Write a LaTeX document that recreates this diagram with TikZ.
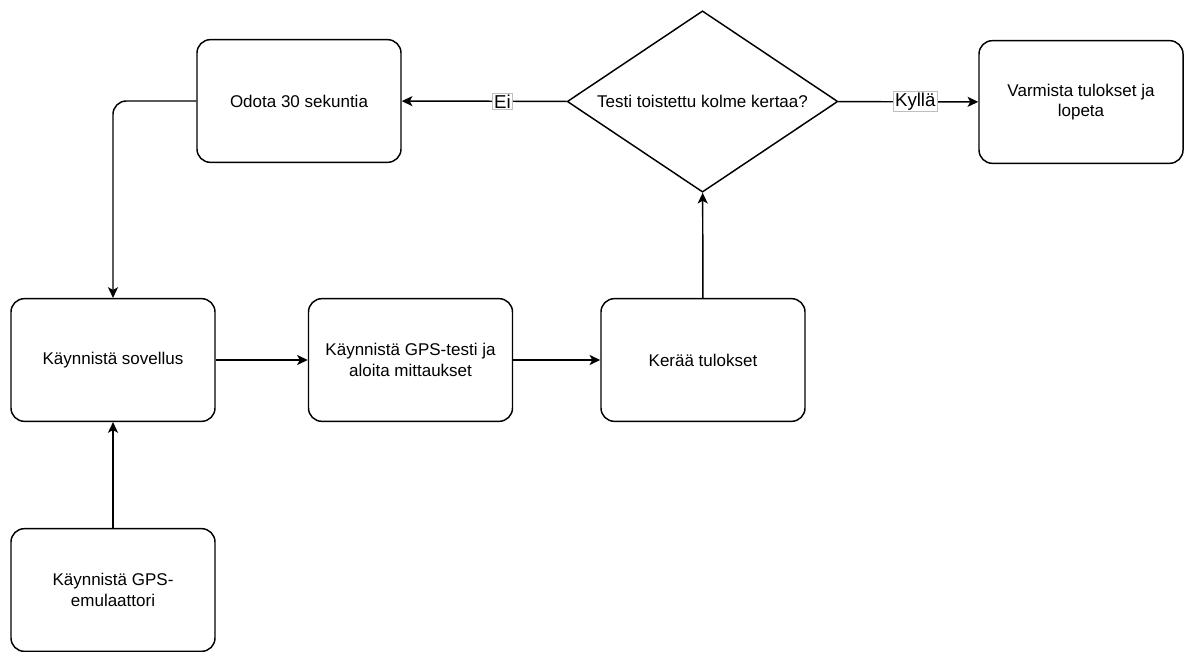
\documentclass[tikz,border=0pt]{standalone}
\usepackage{fontspec}
\setmainfont{Liberation Sans}
\usetikzlibrary{arrows.meta,shapes.geometric}

\begin{document}
\begin{tikzpicture}[x=0.75pt,y=-0.75pt,
  stepbox/.style={draw,rounded corners=10pt,line width=1.1pt,minimum width=153pt,minimum height=92pt,align=center,font=\fontsize{12.75}{15.5}\selectfont},
  choice/.style={draw,diamond,aspect=1.5,inner sep=0pt,line width=1.1pt,minimum width=203pt,minimum height=136pt,font=\fontsize{12.75}{15.5}\selectfont},
  flow/.style={line width=1.1pt,-{Stealth[length=8pt,width=7.5pt,inset=2pt]}},
  lbl/.style={draw=gray!50,line width=0.5pt,fill=white,inner sep=1pt,font=\fontsize{14}{16}\selectfont}]
  \useasboundingbox (0,0) rectangle (1184,652);

  % Top row
  \node[stepbox] (odota) at (299,101) {Odota 30 sekuntia};
  \node[choice] (testi) at (702.5,101.5) {Testi toistettu kolme kertaa?};
  \node[stepbox] (varmista) at (1081,102) {Varmista tulokset ja\\lopeta};

  % Middle row
  \node[stepbox] (sovellus) at (113,360) {Käynnistä sovellus};
  \node[stepbox] (gpstesti) at (410.5,360) {Käynnistä GPS-testi ja\\aloita mittaukset};
  \node[stepbox] (keraa) at (703,360) {Kerää tulokset};

  % Bottom
  \node[stepbox] (emulaattori) at (113,590) {Käynnistä GPS-\\emulaattori};

  % Connectors
  \draw[flow] (emulaattori) -- (sovellus);
  \draw[flow] (sovellus) -- (gpstesti);
  \draw[flow] (gpstesti) -- (keraa);
  \draw[flow] (keraa) -- (testi);
  \draw[flow] (testi) -- node[lbl,pos=0.39] {Ei} (odota);
  \draw[flow] (testi) -- node[lbl,pos=0.55] {Kyllä} (varmista);
  \draw[flow,rounded corners=10pt] (odota.west) -| (sovellus.north);
\end{tikzpicture}
\end{document}
